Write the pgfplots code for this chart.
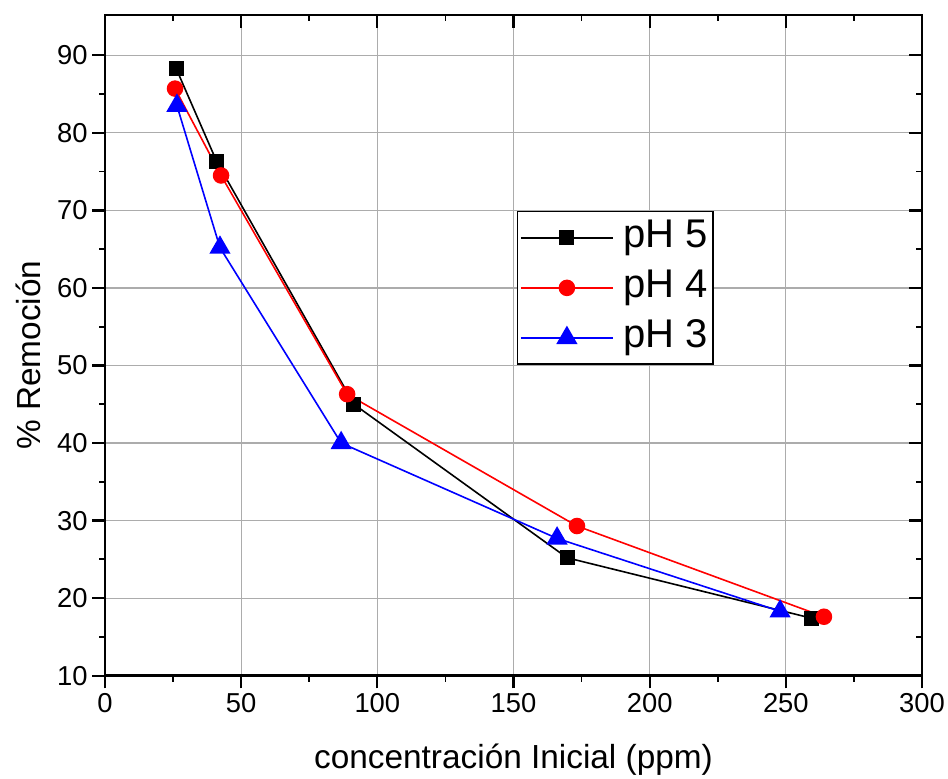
\documentclass[border=0pt]{standalone}
\usepackage{pgfplots}
\pgfplotsset{compat=1.18}
\usepackage{fontspec}
\setmainfont{Liberation Sans}
\begin{document}
\begin{tikzpicture}
\pgfplotsset{
  common/.style={
    scale only axis, width=612pt, height=495pt,
    xmin=0, xmax=300, ymin=10, ymax=95.2,
    xtick={0,50,...,300}, ytick={10,20,...,90},
    minor xtick={25,75,...,275}, minor ytick={15,25,...,85},
    /pgf/number format/assume math mode=true,
    major tick length=9.5pt, minor tick length=4.5pt,
    every tick/.style={black, line width=1.7pt},
    every minor tick/.style={black, line width=1.3pt},
  }
}
\begin{axis}[common, name=ax,
  axis line style={line width=2pt},
  tick align=outside, xtick pos=left, ytick pos=left,
  grid=major, major grid style={gray!65, line width=0.9pt},
  ticklabel style={font=\fontsize{20.5}{24}\selectfont},
  xlabel={concentración Inicial (ppm)}, ylabel={\% Remoción},
  label style={font=\fontsize{25}{29}\selectfont},
  xlabel style={at={(axis description cs:0.5,-0.1408)}, anchor=base},
  ylabel style={at={(axis description cs:-0.0796,0.485)}, anchor=base, rotate=0},
  legend style={at={(rel axis cs:0.504,0.703)}, anchor=north west,
    draw=black, line width=0.9pt, font=\fontsize{30}{34}\selectfont,
    row sep=4.5pt, column sep=5pt, inner xsep=2pt, inner ysep=3pt,
    nodes={inner sep=2pt, text height=22pt, text depth=7pt}},
  legend image code/.code={
    \draw[mark repeat=2,mark phase=2] plot coordinates {(0pt,0pt) (34.5pt,0pt) (69pt,0pt)};},
]
\addplot[black, line width=1.2pt, mark=square*, mark size=5pt, mark options={solid}]
  coordinates {(26.1,88.3) (41.0,76.3) (91.4,45.0) (169.7,25.2) (259.6,17.4)};
\addlegendentry{pH 5}
\addplot[red, line width=1.2pt, mark=*, mark size=5.6pt]
  coordinates {(25.7,85.7) (42.6,74.5) (88.9,46.3) (173.3,29.3) (264.0,17.6)};
\addlegendentry{pH 4}
\addplot[blue, line width=1.2pt, mark=triangle*, mark size=8pt]
  coordinates {(26.4,83.5) (42.2,65.2) (86.7,40.0) (166.0,27.7) (247.9,18.3)};
\addlegendentry{pH 3}
\end{axis}
\begin{axis}[common,
  axis line style={draw=none},
  tick align=inside, xtick pos=right, ytick pos=right,
  xticklabels={}, yticklabels={},
]
\end{axis}
\pgfresetboundingbox
\path ([xshift=-78.7pt,yshift=-77.2pt]ax.south west) rectangle ([xshift=19.5pt,yshift=11.2pt]ax.north east);
\end{tikzpicture}
\end{document}
